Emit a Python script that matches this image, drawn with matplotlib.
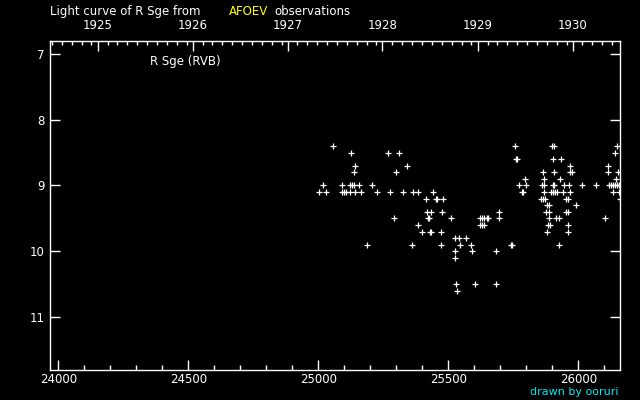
import matplotlib
matplotlib.use('Agg')
import matplotlib.pyplot as plt
import numpy as np

# light curve of R Sge, JD - 2400000 and visual magnitude
jd = [25057, 25757, 25900, 25907, 26150,
      25127, 25269, 25311, 26142,
      25761, 25765, 25903, 25934,
      25142, 25342, 25969, 26115,
      25138, 25300, 25865, 25907, 25969, 25977, 26115, 26154,
      25796, 25869, 25930, 26146,
      25019, 25092, 25123, 25130, 25138, 25157, 25207, 25772, 25800, 25861, 25869,
      25903, 25907, 25946, 25965, 26015, 26069, 26119, 26126, 26134, 26142, 26150, 26157,
      25003, 25030, 25092, 25100, 25107, 25123, 25142, 25165, 25227, 25277, 25327,
      25365, 25384, 25442, 25782, 25786, 25869, 25896, 25903, 25911, 25919, 25942,
      25969, 26134, 26157,
      25415, 25453, 25457, 25480, 25857, 25865, 25873, 25953, 25961, 26160,
      25880, 25888, 25992,
      25419, 25434, 25476, 25696, 25876, 25888, 25953, 25961,
      25292, 25423, 25427, 25511, 25623, 25630, 25638, 25649, 25653, 25696, 25888,
      25915, 25926, 26103,
      25384, 25621, 25630, 25638, 25884, 25892, 25961,
      25400, 25430, 25434, 25473, 25880, 25961,
      25527, 25542, 25569,
      25188, 25361, 25473, 25546, 25588, 25742, 25746, 25926,
      25527, 25592, 25684,
      25527,
      25530, 25603, 25684,
      25534]
mag = ([8.4] * 5 + [8.5] * 4 + [8.6] * 4 + [8.7] * 4 + [8.8] * 8 + [8.9] * 4 +
       [9.0] * 23 + [9.1] * 25 + [9.2] * 10 + [9.3] * 3 + [9.4] * 8 + [9.5] * 14 +
       [9.6] * 7 + [9.7] * 6 + [9.8] * 3 + [9.9] * 8 + [10.0] * 3 + [10.1] * 1 +
       [10.5] * 3 + [10.6] * 1)

jd_ticks = [24000, 24500, 25000, 25500, 26000]
mag_ticks = [7, 8, 9, 10, 11]
years = [1925, 1926, 1927, 1928, 1929, 1930]
year_jd = [24151.5, 24516.5, 24881.5, 25246.5, 25612.5, 25977.5]

W, H = 640, 400
XLIM = (23968, 26160)
fig = plt.figure(figsize=(6.4, 4.0), dpi=100, facecolor='black')
ax = fig.add_axes([50 / W, 30 / H, 570 / W, 329.5 / H])
ax.set_facecolor('black')

ax.plot(jd, mag, '+', color='white', markersize=4, markeredgewidth=0.9)

for s in ax.spines.values():
    s.set_color('white')
    s.set_linewidth(1)

ax.set_xticks(jd_ticks)
ax.set_xticks(np.arange(24000, 26200, 100), minor=True)
ax.set_yticks(mag_ticks)
ax.set_xlim(*XLIM)
ax.set_ylim(11.8, 6.8)
ax.tick_params(axis='x', which='major', direction='in', length=7.2, width=1,
               colors='white', labelsize=8.5, pad=2, top=False)
ax.tick_params(axis='x', which='minor', direction='in', length=3.6, width=1,
               colors='white', top=False)
ax.tick_params(axis='y', which='major', direction='in', length=7.2, width=1,
               colors='white', labelsize=8.5, pad=4, right=True)

# top axis with calendar years
top = ax.twiny()
top.set_xticks(year_jd)
top.set_xticklabels([str(y) for y in years])
minor = []
for start in [23785.5] + year_jd:
    minor += [start + 38 * k for k in range(1, 10)]
top.set_xticks(minor, minor=True)
top.set_xlim(*XLIM)
top.tick_params(axis='x', which='major', direction='in', length=7.2, width=1,
                colors='white', labelsize=8.5, pad=6)
top.tick_params(axis='x', which='minor', direction='in', length=3, width=1,
                colors='white')
for s in top.spines.values():
    s.set_visible(False)

kw = dict(fontsize=8.5, va='center', ha='left')
fig.text(50 / W, 1 - 11.5 / H, 'Light curve of R Sge from', color='white', **kw)
fig.text(229 / W, 1 - 11.5 / H, 'AFOEV', color='#ffff00', **kw)
fig.text(274 / W, 1 - 11.5 / H, 'observations', color='white', **kw)
fig.text(150 / W, 1 - 61 / H, 'R Sge (RVB)', color='white', **kw)
fig.text(618 / W, 1 - 392 / H, 'drawn by ooruri', color='#00e8f0',
         fontsize=8, va='center', ha='right')

fig.savefig('out.png', dpi=100, facecolor='black')
